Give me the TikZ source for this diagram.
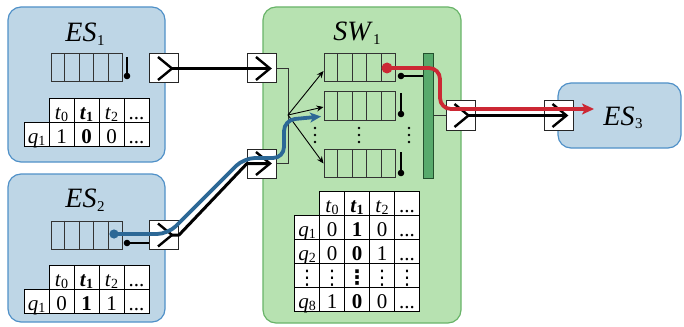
\documentclass[tikz,border=0pt]{standalone}
\usepackage{fontspec}
\setmainfont{Liberation Serif}
\newfontfamily\dvs{DejaVu Sans}
\usetikzlibrary{arrows.meta,calc,matrix}
\definecolor{esfill}{RGB}{190,214,230}
\definecolor{esline}{RGB}{80,145,200}
\definecolor{swfill}{RGB}{183,226,177}
\definecolor{swline}{RGB}{105,180,105}
\definecolor{barfill}{RGB}{88,170,108}
\definecolor{bardark}{RGB}{35,80,45}
\definecolor{flred}{RGB}{204,40,52}
\definecolor{flblue}{RGB}{44,104,150}
\newcommand\myt[1]{\textit{t}\raisebox{-2.5pt}{\fontsize{14}{14}\selectfont #1}}
\newcommand\mytb{\textbf{\textit{t}}\raisebox{-2.5pt}{\fontsize{14}{14}\selectfont\bfseries 1}}
\newcommand\myq[1]{\textit{q}\raisebox{-2.5pt}{\fontsize{14}{14}\selectfont #1}}
\newcommand\mylab[2]{\textit{#1}\kern0.5pt\raisebox{-3.5pt}{\fontsize{15}{15}\selectfont #2}}
\newcommand\myvd{{\dvs\fontsize{20}{20}\selectfont ⋮}}
\newcommand\myvdb{{\dvs\bfseries\fontsize{20}{20}\selectfont ⋮}}
\tikzset{
  esbox/.style={draw=esline, fill=esfill, line width=1.2pt, rounded corners=13pt, inner sep=0pt},
  swbox/.style={draw=swline, fill=swfill, line width=1.2pt, rounded corners=13pt, inner sep=0pt},
  lab/.style={font=\fontsize{28}{30}\selectfont, inner sep=0pt},
  port/.style={draw=black!85, fill=white, line width=1pt, minimum size=29pt, inner sep=0pt},
  queue/.style={draw=black!80, line width=1pt, minimum width=71pt, minimum height=28pt, inner sep=0pt},
  chev/.pic={\draw[line width=2.4pt, line join=miter] (-6,-11.5) -- (8,0) -- (-6,11.5);},
  link/.style={line width=3pt, line join=round},
  wire/.style={draw=black!80, line width=0.9pt},
  fanarr/.style={line width=0.9pt, -{Stealth[length=7pt,width=6pt]}},
  gate/.style={line width=2.2pt},
  selbar/.style={draw=bardark, fill=barfill, line width=1pt, minimum width=10pt, minimum height=124pt, inner sep=0pt},
  tbl/.style={matrix of nodes, column sep=-1pt, row sep=-1pt,
    nodes={draw=black, fill=white, line width=1pt, minimum width=25pt, minimum height=24pt,
      inner sep=0pt, anchor=center, text height=18pt, text depth=1pt,
      font=\fontsize{21}{21}\selectfont}},
  flowred/.style={draw=flred, line width=3.8pt, rounded corners=11pt, -{Stealth[length=12pt,width=11pt,inset=3pt]}},
  flowblue/.style={draw=flblue, line width=3.8pt, rounded corners=11pt, -{Stealth[length=11pt,width=10pt,inset=3pt]}}
}
\begin{document}
\begin{tikzpicture}[x=1pt,y=-1pt]
\useasboundingbox (0,0) rectangle (684,326);
% boxes
\node[esbox, minimum width=157pt, minimum height=155pt] (es1) at (86.5,84.5) {};
\node[esbox, minimum width=157pt, minimum height=148pt] (es2) at (86.5,248) {};
\node[esbox, minimum width=123pt, minimum height=65pt] (es3) at (619.5,115.5) {};
\node[swbox, minimum width=198pt, minimum height=316pt] (sw1) at (362,165) {};
% labels
\node[lab] (les1) at (85,34) {\mylab{ES}{1}};
\node[lab] (les2) at (85,200) {\mylab{ES}{2}};
\node[lab] (lsw1) at (357,33) {\mylab{SW}{1}};
\node[lab] (les3) at (623,118) {\mylab{ES}{3}};
% selection bar
\node[selbar] (sel) at (428,116) {};
% queues
\node[queue] (eq1) at (86.5,68) {};
\node[queue] (eq2) at (86.5,235) {};
\node[queue] (sq1) at (359.5,68) {};
\node[queue] (sq2) at (359.5,106) {};
\node[queue] (sqn) at (359.5,163.5) {};
\foreach \q in {eq1,eq2,sq1,sq2,sqn}
  \foreach \i in {1,2,3,4}
    \draw[wire] ($(\q.north west)!\i/5!(\q.north east)$) -- ($(\q.south west)!\i/5!(\q.south east)$);
% gates
\draw[gate] (127,57) -- (127,76); \fill (127,76) circle (3.3);
\draw[gate] (127,243) -- (150,243); \fill (127,243) circle (3.3);
\draw[gate] (401,76) -- (sel.west |- 0,76); \fill (401,76) circle (3.3);
\draw[gate] (401,93) -- (401,114); \fill (401,114) circle (3.3);
\draw[gate] (401,152) -- (401,173); \fill (401,173) circle (3.3);
% dots
\foreach \x in {315,359,409}
  \foreach \y in {128,135,142}
    \fill (\x,\y) circle (1.3);
% tables
\matrix (tb1) [tbl] at (86.5,122.5) {
  & \myt{0} & \mytb & \myt{2} & ...\\
  \myq{1} & 1 & \textbf{0} & 0 & ...\\
};
\matrix (tb2) [tbl] at (86.5,289.5) {
  & \myt{0} & \mytb & \myt{2} & ...\\
  \myq{1} & 0 & \textbf{1} & 1 & ...\\
};
\matrix (tb3) [tbl] at (357,251.5) {
  & \myt{0} & \mytb & \myt{2} & ...\\
  \myq{1} & 0 & \textbf{1} & 0 & ...\\
  \myq{2} & 0 & \textbf{0} & 1 & ...\\
  \myvd & \myvd & \myvdb & \myvd & \myvd\\
  \myq{8} & 1 & \textbf{0} & 0 & ...\\
};
% ports
\node[port] (p1) at (164,68.5) {};
\node[port] (p2) at (262,68.5) {};
\node[port] (p3) at (164,235) {};
\node[port] (p4) at (262,163.5) {};
\node[port] (p5) at (460.5,115.5) {};
\node[port] (p6) at (558.5,115.5) {};
% internal wires
\coordinate (fan) at (288,115);
\draw[wire] (p2.east) -| (fan);
\draw[wire] (p4.east) -| (fan);
\draw[wire] (sel.east |- p5.west) -- (p5.west);
\draw[fanarr] (fan) -- ([yshift=-3pt]sq1.west);
\draw[fanarr] (fan) -- ([yshift=-1pt]sq2.west);
\draw[fanarr] (fan) -- (sqn.west);
% chevrons
\foreach \p in {p1,p2,p3,p4,p5,p6}
  \pic at (\p) {chev};
% links
\draw[link] ([xshift=8pt]p1.center) -- ([xshift=8pt]p2.center);
\draw[link] ([xshift=8pt]p3.center) -- (p3.east) -- (p4.west) -- ([xshift=8pt]p4.center);
\draw[link] ([xshift=8pt]p5.center) -- ([xshift=8pt]p6.center);
% flows
\fill[flblue] (114,234) circle (4.6);
\draw[flowblue] (114,234) -- (168,234) -- (244,158) -- (284,158) -- (284,120) -- (321,116.5);
\fill[flred] (387,68) circle (5.5);
\draw[flowred] (387,68) -- (440,68) -- (440,109) -- (594,109);
\end{tikzpicture}
\end{document}
